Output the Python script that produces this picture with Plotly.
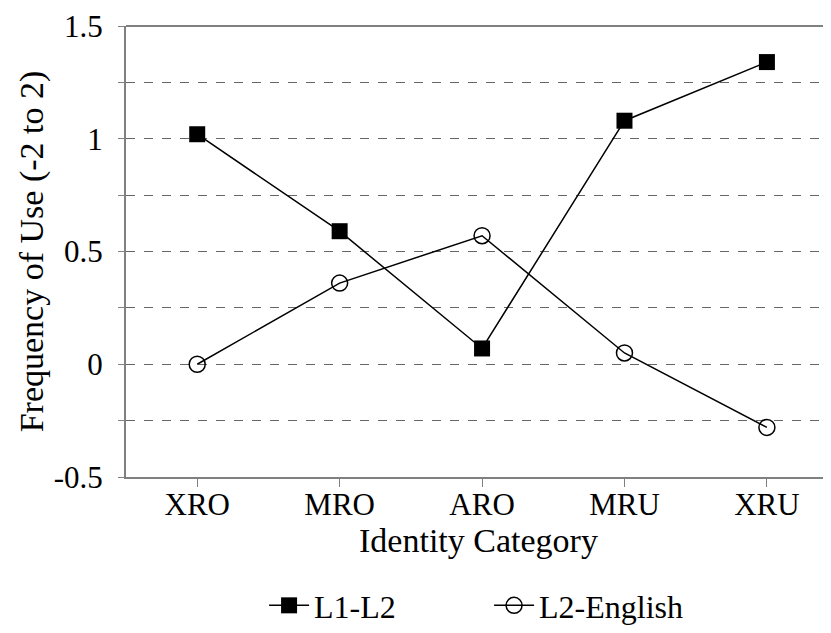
import plotly.graph_objects as go

categories = ["XRO", "MRO", "ARO", "MRU", "XRU"]
l1_l2 = [1.02, 0.59, 0.07, 1.08, 1.34]
l2_english = [0.0, 0.36, 0.57, 0.05, -0.28]
y_ticks = [-0.5, -0.25, 0, 0.25, 0.5, 0.75, 1, 1.25, 1.5]
y_labels = ["-0.5", "", "0", "", "0.5", "", "1", "", "1.5"]

FONT = "Liberation Serif, Times New Roman, serif"

fig = go.Figure()
fig.add_trace(go.Scatter(
    x=categories, y=l1_l2, name="L1-L2", mode="lines+markers",
    line=dict(color="black", width=1.5),
    marker=dict(symbol="square", size=16, color="black"),
))
fig.add_trace(go.Scatter(
    x=categories, y=l2_english, name="L2-English", mode="lines+markers",
    line=dict(color="black", width=1.5),
    marker=dict(symbol="circle-open", size=16, color="black", line=dict(width=1.5)),
))

fig.update_layout(
    width=831, height=633,
    margin=dict(l=118, r=8, t=18, b=164, autoexpand=False),
    plot_bgcolor="white", paper_bgcolor="white",
    font=dict(family=FONT, size=28, color="black"),
    showlegend=True,
    legend=dict(orientation="h", x=0.515, xanchor="center", y=-0.285, yanchor="middle",
                font=dict(size=32), itemwidth=40, entrywidth=170),
    xaxis=dict(
        type="category", range=[-0.5, 4.45], automargin=False,
        showline=True, linecolor="#808080", linewidth=2,
        ticks="outside", ticklen=8, tickcolor="#808080",
        ticklabelstandoff=-9,
        tickfont=dict(size=31),
        showgrid=False, zeroline=False,
        title=dict(text="Identity Category", standoff=0),
    ),
    yaxis=dict(
        range=[-0.5, 1.5], tickvals=y_ticks, ticktext=y_labels, automargin=False,
        showline=True, linecolor="#808080", linewidth=2,
        ticks="outside", ticklen=6, tickcolor="#808080",
        ticklabelstandoff=9,
        tickfont=dict(size=31),
        showgrid=True, gridcolor="#666666", griddash="dash", gridwidth=1,
        zeroline=False,
        title=dict(text="Frequency of Use (-2 to 2)", standoff=0),
    ),
    shapes=[dict(type="line", xref="paper", yref="paper", x0=0, x1=1, y0=1, y1=1,
                 line=dict(color="#808080", width=2), layer="above")],
)

fig.write_html("out.html")
